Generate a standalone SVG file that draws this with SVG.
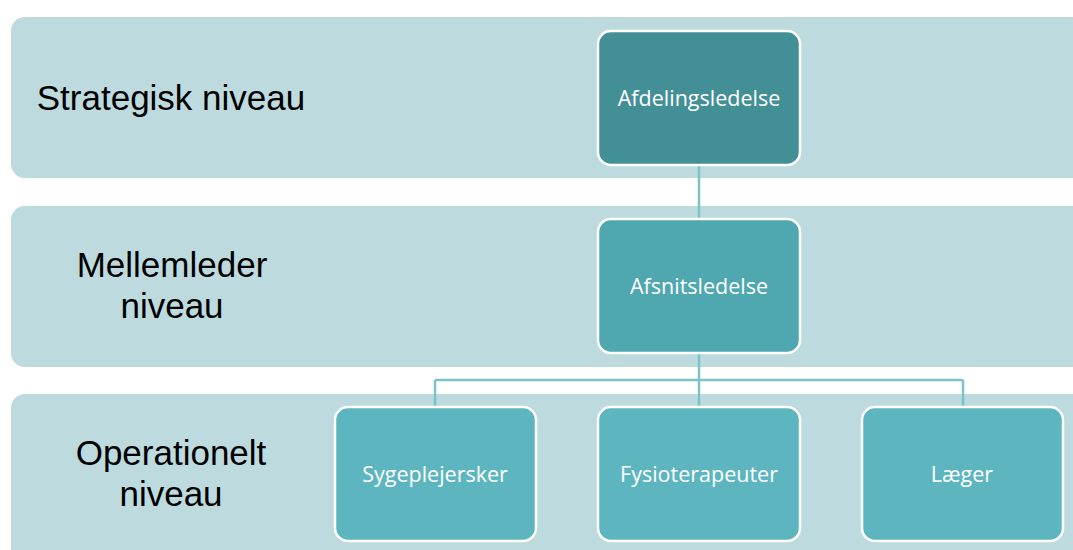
<svg xmlns="http://www.w3.org/2000/svg" width="1073" height="550" viewBox="0 0 1073 550">
  <style>
    .band { fill: #bddbdf; }
    .lvl { font-family: "Liberation Sans", Arial, sans-serif; font-size: 35px; fill: #000; text-anchor: middle; }
    .box { stroke: #ffffff; stroke-width: 2.5; }
    .lbl { font-family: "Open Sans", "Liberation Sans", sans-serif; font-size: 21.5px; fill: #ffffff; text-anchor: middle; }
    .conn { fill: none; stroke: #7cc2c9; stroke-width: 2.5; }
  </style>
  <rect width="1073" height="550" fill="#ffffff"/>

  <!-- level bands -->
  <g id="band-strategic">
    <rect class="band" x="11" y="17" width="1090" height="161" rx="14"/>
    <text class="lvl" x="171" y="110">Strategisk niveau</text>
  </g>
  <g id="band-middle">
    <rect class="band" x="11" y="206" width="1090" height="161" rx="14"/>
    <text class="lvl" x="172" y="277">Mellemleder</text>
    <text class="lvl" x="172" y="318">niveau</text>
  </g>
  <g id="band-operational">
    <rect class="band" x="11" y="394" width="1090" height="180" rx="14"/>
    <text class="lvl" x="171" y="465">Operationelt</text>
    <text class="lvl" x="171" y="506">niveau</text>
  </g>

  <!-- connectors -->
  <g id="connectors">
    <path class="conn" d="M699 165 V219"/>
    <path class="conn" d="M699 353 V380 M435 380 H963 M435 380 V407 M699 380 V407 M963 380 V407"/>
  </g>

  <!-- org nodes -->
  <g id="node-afdelingsledelse">
    <rect class="box" x="598" y="31" width="202" height="134" rx="13" fill="#438f96"/>
    <text class="lbl" x="699" y="106">Afdelingsledelse</text>
  </g>
  <g id="node-afsnitsledelse">
    <rect class="box" x="598" y="219" width="202" height="134" rx="13" fill="#4fa7b0"/>
    <text class="lbl" x="699" y="294">Afsnitsledelse</text>
  </g>
  <g id="node-sygeplejersker">
    <rect class="box" x="335" y="407" width="201" height="134" rx="13" fill="#5db6bf"/>
    <text class="lbl" x="435" y="482">Sygeplejersker</text>
  </g>
  <g id="node-fysioterapeuter">
    <rect class="box" x="598" y="407" width="202" height="134" rx="13" fill="#5db6bf"/>
    <text class="lbl" x="699" y="482">Fysioterapeuter</text>
  </g>
  <g id="node-laeger">
    <rect class="box" x="862" y="407" width="201" height="134" rx="13" fill="#5db6bf"/>
    <text class="lbl" x="962" y="482">Læger</text>
  </g>
</svg>
